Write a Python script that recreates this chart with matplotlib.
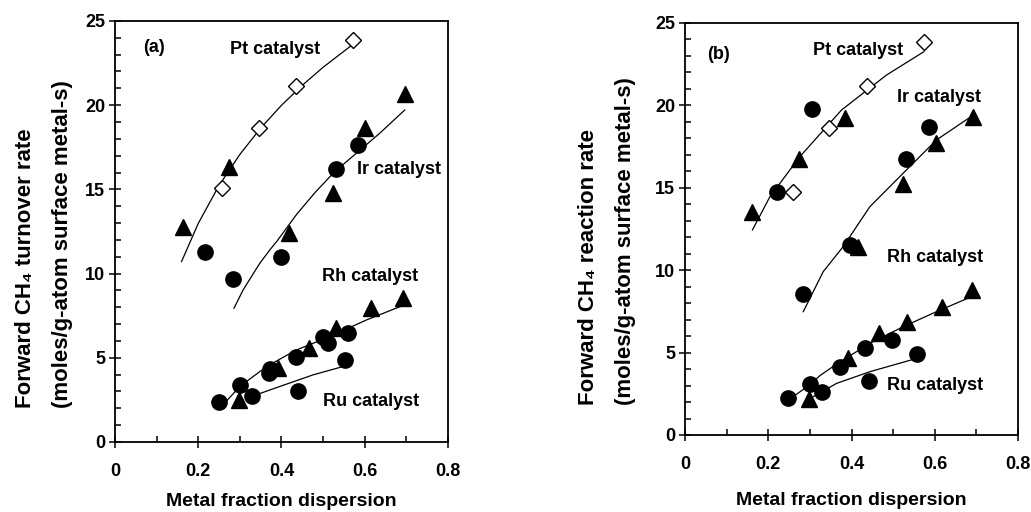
import matplotlib
matplotlib.use("Agg")
import matplotlib.pyplot as plt
from matplotlib.ticker import MultipleLocator

plt.rcParams['font.family'] = ['Liberation Sans', 'DejaVu Sans']
plt.rcParams['font.weight'] = 'bold'

# ---- panel (a): turnover rate ----
a_dia_x = [0.256, 0.347, 0.435, 0.571]
a_dia_y = [15.06, 18.63, 21.14, 23.87]
a_tri_x = [0.163, 0.274, 0.418, 0.523, 0.600, 0.696,
           0.299, 0.392, 0.467, 0.532, 0.616, 0.692]
a_tri_y = [12.79, 16.35, 12.39, 14.77, 18.63, 20.66,
           2.50, 4.37, 5.56, 6.75, 7.94, 8.53]
a_cir_x = [0.216, 0.283, 0.399, 0.531, 0.584,
           0.251, 0.300, 0.330, 0.371, 0.373, 0.436, 0.500, 0.512, 0.559, 0.440, 0.553]
a_cir_y = [11.26, 9.66, 10.97, 16.19, 17.64,
           2.36, 3.38, 2.73, 4.08, 4.30, 5.03, 6.20, 5.86, 6.49, 3.05, 4.87]

a_pt_x = [0.160, 0.200, 0.250, 0.300, 0.350, 0.400, 0.450, 0.500, 0.571]
a_pt_y = [10.71, 12.97, 15.23, 17.07, 18.64, 19.99, 21.18, 22.25, 23.60]
a_ir_x = [0.286, 0.308, 0.348, 0.372, 0.390, 0.436, 0.482, 0.528, 0.636, 0.696]
a_ir_y = [7.94, 9.03, 10.61, 11.40, 11.95, 13.50, 14.85, 16.05, 18.33, 19.71]
a_rh_x = [0.250, 0.300, 0.364, 0.436, 0.516, 0.604, 0.696]
a_rh_y = [1.94, 3.29, 4.47, 5.46, 6.25, 7.24, 8.14]
a_ru_x = [0.316, 0.396, 0.476, 0.553]
a_ru_y = [2.59, 3.29, 3.98, 4.51]

# ---- panel (b): reaction rate ----
b_dia_x = [0.259, 0.346, 0.438, 0.574]
b_dia_y = [14.72, 18.61, 21.18, 23.87]
b_tri_x = [0.160, 0.275, 0.384, 0.416, 0.523, 0.603, 0.693,
           0.298, 0.392, 0.467, 0.534, 0.617, 0.689]
b_tri_y = [13.55, 16.73, 19.22, 11.38, 15.23, 17.70, 19.32,
           2.17, 4.65, 6.17, 6.88, 7.79, 8.80]
b_cir_x = [0.220, 0.306, 0.284, 0.396, 0.531, 0.585,
           0.248, 0.300, 0.328, 0.372, 0.432, 0.442, 0.497, 0.557]
b_cir_y = [14.72, 19.76, 8.54, 11.53, 16.73, 18.71,
           2.22, 3.07, 2.63, 4.15, 5.26, 3.28, 5.76, 4.91]

b_pt_x = [0.162, 0.204, 0.276, 0.376, 0.484, 0.574]
b_pt_y = [12.44, 14.46, 16.89, 19.72, 21.84, 23.26]
b_ir_x = [0.284, 0.332, 0.380, 0.444, 0.524, 0.604, 0.693]
b_ir_y = [7.48, 9.91, 11.43, 13.85, 15.88, 17.90, 19.42]
b_rh_x = [0.260, 0.300, 0.324, 0.364, 0.444, 0.524, 0.604, 0.688]
b_rh_y = [2.33, 3.05, 3.60, 4.30, 5.56, 6.57, 7.48, 8.39]
b_ru_x = [0.308, 0.364, 0.444, 0.557]
b_ru_y = [2.33, 3.13, 3.84, 4.65]

a_labels = [("(a)", 0.067, 23.4), ("Pt catalyst", 0.276, 23.3), ("Ir catalyst", 0.581, 16.2),
            ("Rh catalyst", 0.497, 9.8), ("Ru catalyst", 0.500, 2.38)]
b_labels = [("(b)", 0.053, 23.06), ("Pt catalyst", 0.307, 23.36), ("Ir catalyst", 0.509, 20.5),
            ("Rh catalyst", 0.485, 10.74), ("Ru catalyst", 0.485, 3.03)]


def draw_panel(ax, dia, tri, cir, curves, labels, ylabel):
    for cx, cy in curves:
        ax.plot(cx, cy, color='black', linewidth=0.9, zorder=2)
    ax.plot(tri[0], tri[1], '^', color='black', markersize=11, linestyle='none', zorder=3)
    ax.plot(cir[0], cir[1], 'o', color='black', markersize=11, linestyle='none', zorder=3)
    ax.plot(dia[0], dia[1], 'D', markerfacecolor='white', markeredgecolor='black',
            markeredgewidth=1.0, markersize=8, linestyle='none', zorder=4)
    for txt, x, y in labels:
        ax.text(x, y, txt, fontsize=13, fontweight='bold', ha='left', va='center')

    ax.set_xlim(0, 0.8)
    ax.set_ylim(0, 25)
    ax.xaxis.set_ticks([0, 0.2, 0.4, 0.6, 0.8])
    ax.set_xticklabels(['0', '0.2', '0.4', '0.6', '0.8'])
    ax.xaxis.set_minor_locator(MultipleLocator(0.1))
    ax.yaxis.set_major_locator(MultipleLocator(5))
    ax.yaxis.set_minor_locator(MultipleLocator(1))
    ax.tick_params(which='major', direction='inout', length=8, width=1.1,
                   labelsize=13, pad=11)
    ax.tick_params(which='minor', direction='in', length=4, width=1.1)
    ax.tick_params(axis='y', which='major', pad=3)
    for s in ax.spines.values():
        s.set_linewidth(1.3)
    ax.set_xlabel('Metal fraction dispersion', fontsize=14, fontweight='bold')
    ax.set_ylabel(ylabel, fontsize=16, fontweight='bold', linespacing=2.0,
                  multialignment='left')


fig = plt.figure(figsize=(10.31, 5.12), dpi=100)
ax1 = fig.add_axes([0.1115, 0.137, 0.323, 0.822])
ax2 = fig.add_axes([0.6644, 0.1504, 0.323, 0.8047])

draw_panel(ax1, (a_dia_x, a_dia_y), (a_tri_x, a_tri_y), (a_cir_x, a_cir_y),
           [(a_pt_x, a_pt_y), (a_ir_x, a_ir_y), (a_rh_x, a_rh_y), (a_ru_x, a_ru_y)],
           a_labels, 'Forward CH\u2084 turnover rate\n(moles/g-atom surface metal-s)')
draw_panel(ax2, (b_dia_x, b_dia_y), (b_tri_x, b_tri_y), (b_cir_x, b_cir_y),
           [(b_pt_x, b_pt_y), (b_ir_x, b_ir_y), (b_rh_x, b_rh_y), (b_ru_x, b_ru_y)],
           b_labels, 'Forward CH\u2084 reaction rate\n(moles/g-atom surface metal-s)')

ax1.xaxis.set_label_coords(0.5, -0.121)
ax2.xaxis.set_label_coords(0.5, -0.138)
ax1.yaxis.set_label_coords(-0.126, 0.47)
ax2.yaxis.set_label_coords(-0.147, 0.47)

fig.savefig('out.png', dpi=100, facecolor='white')
